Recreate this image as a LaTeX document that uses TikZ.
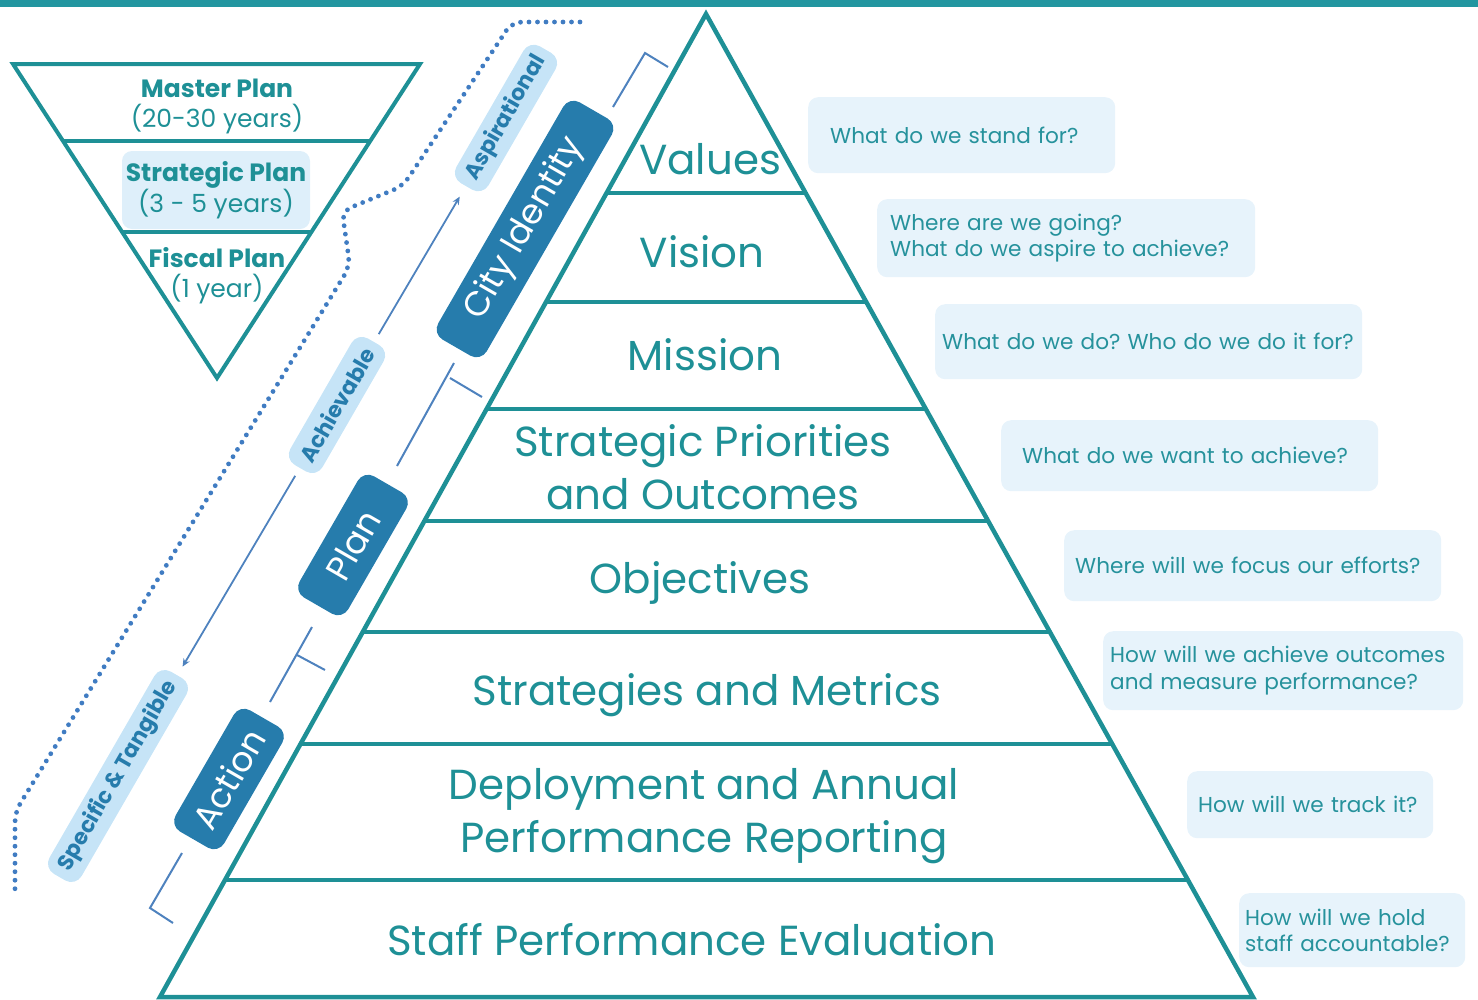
\documentclass[tikz,border=0pt]{standalone}
\usepackage{fontspec}
\setmainfont{Poppins}
\frenchspacing
\usetikzlibrary{calc, arrows.meta, positioning}
\definecolor{barteal}{RGB}{34,150,160}
\definecolor{pteal}{RGB}{30,144,150}
\definecolor{qteal}{RGB}{38,146,156}
\definecolor{qfill}{RGB}{231,243,251}
\definecolor{dblue}{RGB}{38,124,172}
\definecolor{lblue}{RGB}{198,228,247}
\definecolor{hlfill}{RGB}{222,239,250}
\definecolor{sblue}{RGB}{78,130,190}
\definecolor{dotblue}{RGB}{64,124,194}

\tikzset{
    pyr/.style={draw=pteal, line width=4.5pt},
    ptext/.style={text=pteal, font=\fontsize{42}{53}\selectfont, align=center},
    ttext/.style={text=pteal, font=\fontsize{25}{30}\selectfont, align=center},
    qbox/.style={fill=qfill, rounded corners=10pt, text=qteal, font=\fontsize{21.6}{26.5}\selectfont,
        align=left, anchor=north west, inner ysep=0pt},
    darkbox/.style={fill=dblue, rounded corners=12pt, text=white, font=\fontsize{34.5}{34.5}\selectfont,
        rotate=60, minimum height=56pt, inner sep=0pt},
    lightbox/.style={fill=lblue, rounded corners=12pt, text=dblue, font=\bfseries\fontsize{22}{22}\selectfont,
        rotate=60, minimum height=37pt, inner ysep=0pt, inner xsep=9pt},
    brk/.style={draw=sblue, line width=2pt},
    arr/.style={draw=sblue, line width=1.8pt, -{Stealth[length=8pt,width=7pt]}},
    dots/.style={draw=dotblue, line width=4.8pt, line cap=round, dash pattern=on 0pt off 8.5pt}
}

\begin{document}
\begin{tikzpicture}[x=1pt, y=-1pt]
    \useasboundingbox (0,0) rectangle (1478,999);
    \fill[barteal] (0,0) rectangle (1478,7);

    % pyramid
    \coordinate (apex) at (706,14);
    \coordinate (bl) at (160,997);
    \coordinate (br) at (1253,997);
    \draw[pyr] (apex) -- (bl) -- (br) -- cycle;
    \foreach \y in {193,302,409,521,632,744,880}{
        \pgfmathsetmacro{\t}{(\y-14)/983}
        \draw[pyr] ($(apex)!\t!(bl)$) -- ($(apex)!\t!(br)$);
    }

    \node[ptext] (values) at (710,159) {Values};
    \node[ptext] (vision) at (702,252) {Vision};
    \node[ptext] (mission) at (705,355) {Mission};
    \node[ptext] (prio) at (703,467) {Strategic Priorities\\and Outcomes};
    \node[ptext] (obj) at (700,583) {Objectives};
    \node[ptext] (strat) at (707,695) {Strategies and Metrics};
    \node[ptext] (deploy) at (704,816) {Deployment and Annual\\Performance Reporting};
    \node[ptext] (staff) at (692,940) {Staff Performance Evaluation};

    % questions
    \node[qbox, text width=263pt, inner xsep=22pt, minimum height=76pt] (q1) at (808,97) {What do we stand for?};
    \node[qbox, text width=352pt, inner xsep=13pt, minimum height=78pt] (q2) at (877,199) {Where are we going?\\What do we aspire to achieve?};
    \node[qbox, text width=413pt, inner xsep=7pt, minimum height=75pt] (q3) at (935,304) {What do we do? Who do we do it for?};
    \node[qbox, text width=335pt, inner xsep=21pt, minimum height=71pt] (q4) at (1001,420) {What do we want to achieve?};
    \node[qbox, text width=355pt, inner xsep=11pt, minimum height=71pt] (q5) at (1064,530) {Where will we focus our efforts?};
    \node[qbox, text width=346pt, inner xsep=7pt, minimum height=79pt] (q6) at (1103,631) {How will we achieve outcomes\\and measure performance?};
    \node[qbox, text width=224pt, inner xsep=11pt, minimum height=67pt] (q7) at (1187,771) {How will we track it?};
    \node[qbox, text width=214pt, inner xsep=6pt, minimum height=74pt] (q8) at (1239,893) {How will we hold\\staff accountable?};

    % plan horizons
    \coordinate (mtl) at (13,64);
    \coordinate (mtr) at (420,64);
    \coordinate (mv) at (217,378);
    \node[ttext, fill=hlfill, rounded corners=10pt, minimum width=188pt, minimum height=78pt, inner sep=0pt] (splan) at (216,190) {\textbf{Strategic Plan}\\(3 - 5 years)};
    \draw[pyr, line width=4pt] (mtl) -- (mtr) -- (mv) -- cycle;
    \foreach \y in {141,232}{
        \pgfmathsetmacro{\t}{(\y-64)/314}
        \draw[pyr, line width=4pt] ($(mtl)!\t!(mv)$) -- ($(mtr)!\t!(mv)$);
    }
    \node[ttext] (mplan) at (217,106) {\textbf{Master Plan}\\(20-30 years)};
    \node[ttext] (fplan) at (217,276) {\textbf{Fiscal Plan}\\(1 year)};

    % dotted boundary
    \draw[dots, rounded corners=10pt] (580,22) -- (512,22) -- (403,186) -- (342,211) -- (350,266) -- (15,812) -- (15,890);

    % brackets
    \coordinate (t0) at (668,67);
    \coordinate (t1) at (645,53);
    \coordinate (t2) at (613,107);
    \draw[brk] (t0) -- (t1) -- (t2);
    \coordinate (u1) at (454,363);
    \coordinate (u2) at (397,466);
    \coordinate (u3) at (450,378);
    \coordinate (u4) at (482,397);
    \draw[brk] (u1) -- (u2);
    \draw[brk] (u3) -- (u4);
    \coordinate (v1) at (312,627);
    \coordinate (v2) at (270,702);
    \coordinate (v3) at (297,655);
    \coordinate (v4) at (325,670);
    \draw[brk] (v1) -- (v2);
    \draw[brk] (v3) -- (v4);
    \coordinate (w1) at (182,853);
    \coordinate (w2) at (150,908);
    \coordinate (w3) at (173,923);
    \draw[brk] (w1) -- (w2) -- (w3);

    % stages
    \node[darkbox, minimum width=274pt] (city) at (525,229) {City Identity};
    \node[darkbox, minimum width=140pt] (plan) at (353,545) {Plan};
    \node[darkbox, minimum width=140pt] (action) at (229,779) {Action};

    \node[lightbox] (asp) at (506,118) {Aspirational};
    \node[lightbox] (achv) at (337,405) {Achievable};
    \node[lightbox] (spec) at (118,776) {Specific \& Tangible};

    \draw[arr, shorten <=9pt, shorten >=12pt] (achv) -- (asp);
    \draw[arr, shorten <=9pt, shorten >=10pt] (achv) -- (spec);
\end{tikzpicture}
\end{document}
